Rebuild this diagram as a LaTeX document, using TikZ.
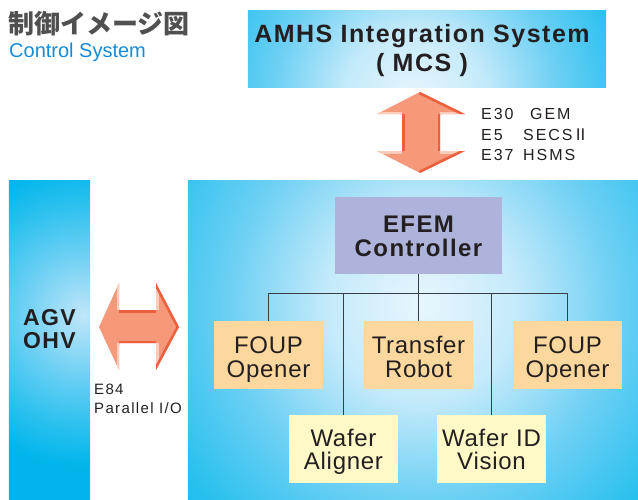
\documentclass[tikz,border=0pt]{standalone}
\usepackage{fontspec}
\setmainfont{Liberation Sans}
\newfontfamily\cjk{Noto Sans CJK JP}
\definecolor{cyanc}{RGB}{0,181,236}
\definecolor{glowa}{RGB}{232,246,253}
\definecolor{glowb}{RGB}{196,234,250}
\definecolor{glowc}{RGB}{110,208,244}
\definecolor{glowd}{RGB}{40,192,238}
\definecolor{softa}{RGB}{192,230,248}
\definecolor{peach}{RGB}{253,216,158}
\definecolor{cream}{RGB}{255,249,200}
\definecolor{lavender}{RGB}{173,179,218}
\definecolor{txt}{RGB}{35,31,32}
\definecolor{linec}{RGB}{55,62,70}
\definecolor{titlegray}{RGB}{80,80,80}
\definecolor{subblue}{RGB}{24,139,214}
\definecolor{arrowfill}{RGB}{246,152,122}
\definecolor{arrowdark}{RGB}{236,96,64}
\definecolor{arrowlight}{RGB}{252,204,186}
\pgfdeclareradialshading{glow}{\pgfpoint{0bp}{0bp}}{color(0bp)=(glowa); color(5bp)=(glowb); color(10bp)=(glowc); color(15bp)=(glowd); color(20bp)=(cyanc); color(50bp)=(cyanc)}
\pgfdeclareradialshading{glowsoft}{\pgfpoint{0bp}{0bp}}{color(0bp)=(softa); color(5.8bp)=(glowc); color(11bp)=(glowd); color(14.6bp)=(cyanc); color(50bp)=(cyanc)}
\pgfdeclarelayer{bg}
\pgfsetlayers{bg,main}
\tikzset{
  unitbox/.style={rectangle, inner sep=0pt, minimum width=109pt, minimum height=68pt,
    text width=109pt, align=center, text=txt,
    font=\fontsize{24}{24}\selectfont\addfontfeature{LetterSpace=3}},
  foupbox/.style={unitbox, fill=peach, text height=20pt, text depth=24pt},
  lowbox/.style={unitbox, fill=cream, text height=20pt, text depth=26pt,
    font=\fontsize{24}{23}\selectfont\addfontfeature{LetterSpace=3}},
  ctrlbox/.style={rectangle, inner sep=0pt, minimum width=167pt, minimum height=77pt,
    text width=167pt, align=center, fill=lavender, text=txt, text height=20pt, text depth=27pt,
    font=\bfseries\fontsize{24}{24}\selectfont\addfontfeature{LetterSpace=6}},
  mcsbox/.style={rectangle, inner sep=0pt, minimum width=358pt, minimum height=76pt,
    text width=358pt, align=center, text=txt, text height=20pt, text depth=34pt,
    font=\bfseries\fontsize{25}{29}\selectfont\addfontfeature{LetterSpace=6}},
  agvbox/.style={rectangle, inner sep=0pt, minimum width=81pt, minimum height=318pt,
    text width=81pt, align=center, text=txt, text height=18pt, text depth=48pt,
    font=\bfseries\fontsize{23}{23}\selectfont\addfontfeature{LetterSpace=6}},
  cellbox/.style={rectangle, inner sep=0pt, minimum width=450pt, minimum height=318pt},
  conn/.style={draw=linec, line width=1pt},
  lbl/.style={anchor=base west, inner sep=0pt, text=txt,
    font=\fontsize{16}{16}\selectfont\addfontfeature{LetterSpace=12}},
  pio/.style={anchor=base west, inner sep=0pt, text=txt,
    font=\fontsize{15}{15}\selectfont\addfontfeature{LetterSpace=9}},
  darkedge/.style={draw=arrowdark, line width=5pt},
  lightedge/.style={draw=arrowlight, line width=5pt}
}
\begin{document}
\begin{tikzpicture}[x=1pt, y=-1pt]
\useasboundingbox (0,0) rectangle (638,499);

% titles
\node[anchor=base west, inner sep=0pt, text=titlegray,
  font=\cjk\bfseries\fontsize{26}{26}\selectfont] (title) at (8,33) {制御イメージ図};
\node[anchor=base west, inner sep=0pt, text=subblue,
  font=\fontsize{20}{20}\selectfont] (subtitle) at (9,57) {Control System};

% big boxes
\node[mcsbox] (mcs) at (427,49) {\hspace*{-10pt}AMHS Integration System\\\hspace*{-10pt}( MCS )};
\node[agvbox] (agv) at (49.5,340) {AGV\\OHV};
\node[cellbox] (cell) at (413,340) {};

\begin{pgfonlayer}{bg}
  \begin{scope}
    \clip (mcs.north west) rectangle (mcs.south east);
    \fill[cyanc] (mcs.north west) rectangle (mcs.south east);
    \shade[shading=glow] (415,100) circle (354pt);
  \end{scope}
  \begin{scope}
    \clip (agv.north west) rectangle (agv.south east);
    \fill[cyanc] (agv.north west) rectangle (agv.south east);
    \shade[shading=glowsoft] (84,315) circle (260pt);
  \end{scope}
  \begin{scope}
    \clip (cell.north west) rectangle (cell.south east);
    \fill[cyanc] (cell.north west) rectangle (cell.south east);
    \shade[shading=glow] (422,305) circle (480pt);
  \end{scope}
\end{pgfonlayer}

% inner boxes
\node[ctrlbox] (efem) at (418.5,235.5) {EFEM\\Controller};
\node[foupbox] (foup1) at (268.5,355) {FOUP\\Opener};
\node[foupbox] (robot) at (418.5,355) {Transfer\\Robot};
\node[foupbox] (foup2) at (567.5,355) {FOUP\\Opener};
\node[lowbox] (aligner) at (343.5,449) {Wafer\\Aligner};
\node[lowbox] (vision) at (491.5,449) {Wafer ID\\Vision};

% connectors
\coordinate (bus) at (0,293);
\draw[conn] (efem.south) -- (robot.north);
\draw[conn] (foup1.north) |- (foup2.north |- bus) -- (foup2.north);
\draw[conn] (aligner.north) -- (aligner.north |- bus);
\draw[conn] (vision.north) -- (vision.north |- bus);

% vertical double arrow
\begin{scope}
  \clip (420,92) -- (465,114) -- (440,114) -- (440,151) -- (465,151) -- (420,173)
     -- (377,151) -- (402,151) -- (402,114) -- (377,114) -- cycle;
  \fill[arrowfill] (370,85) rectangle (470,180);
  \draw[lightedge] (377,114) -- (402,114);
  \draw[lightedge] (440,114) -- (465,114);
  \draw[lightedge] (377,151) -- (402,151);
  \draw[lightedge] (440,151) -- (465,151);
  \draw[darkedge] (402,114) -- (402,151);
  \draw[darkedge] (440,114) -- (440,151);
  \draw[darkedge] (420,92) -- (465,114);
  \draw[darkedge] (465,151) -- (420,173);
\end{scope}

% horizontal double arrow
\begin{scope}
  \clip (99,327) -- (119,283) -- (119,310) -- (156,310) -- (156,283) -- (179,327)
     -- (156,370) -- (156,343) -- (119,343) -- (119,370) -- cycle;
  \fill[arrowfill] (95,278) rectangle (185,375);
  \draw[lightedge] (119,283) -- (119,310);
  \draw[lightedge] (119,343) -- (119,370);
  \draw[lightedge] (156,283) -- (156,310);
  \draw[lightedge] (156,343) -- (156,370);
  \draw[darkedge] (119,310) -- (156,310);
  \draw[darkedge] (119,343) -- (156,343);
  \draw[darkedge] (156,283) -- (179,327) -- (156,370);
\end{scope}

% protocol labels
\node[lbl] (e30) at (481,119) {E30};
\node[lbl] (gem) at (530,119) {GEM};
\node[lbl] (e5) at (481,140.5) {E5};
\node[lbl] (secs) at (523,140.5) {SECS{\cjk Ⅱ}};
\node[lbl] (e37) at (481,160) {E37};
\node[lbl] (hsms) at (523,160) {HSMS};
\node[pio] (e84) at (94,394) {E84};
\node[pio] (pio) at (94,413) {Parallel I/O};
\end{tikzpicture}
\end{document}
